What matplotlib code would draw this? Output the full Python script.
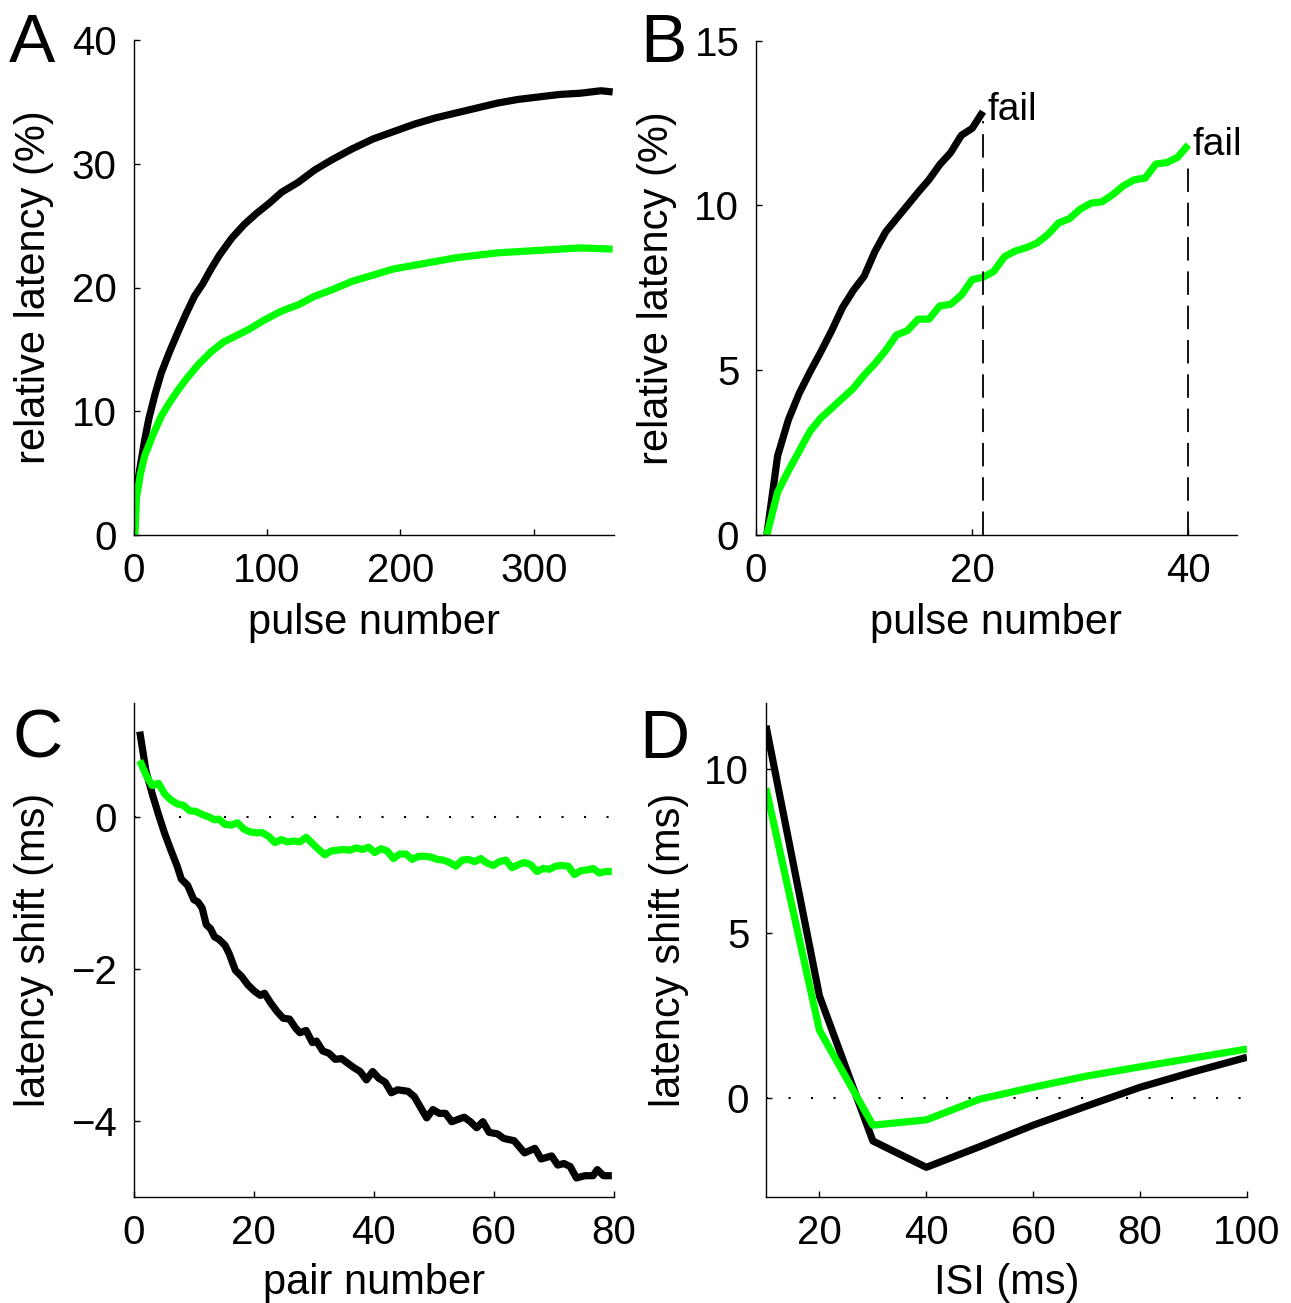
import matplotlib
matplotlib.use("Agg")
import matplotlib.pyplot as plt

plt.rcParams['font.family'] = ['Liberation Sans', 'DejaVu Sans']

W, H = 1291, 1303
BLACK = '#000000'
GREEN = '#00ff00'

# ---- Panel A data ----
a_black_x = [1, 2.2, 5.3, 8.4, 11.5, 16.2, 20.8, 27.0, 33.3, 39.5, 45.7, 51.9, 58.1, 64.3, 73.7, 83.0,
             92.3, 101.6, 111.0, 123.4, 135.8, 148.3, 163.8, 179.4, 194.9, 210.4, 226.0, 241.5,
             257.1, 272.6, 288.2, 303.7, 319.2, 334.8, 350.3, 359.0]
a_black_y = [2.0, 3.7, 5.7, 7.7, 9.4, 11.4, 13.1, 14.8, 16.4, 17.9, 19.3, 20.3, 21.5, 22.6, 24.0, 25.1,
             26.0, 26.8, 27.7, 28.5, 29.5, 30.3, 31.2, 32.0, 32.6, 33.2, 33.7, 34.1,
             34.5, 34.9, 35.2, 35.4, 35.6, 35.7, 35.9, 35.8]
a_green_x = [1, 2.2, 5.3, 8.4, 14.6, 20.8, 27.0, 33.3, 39.5, 48.8, 58.1, 67.5, 76.8, 86.1, 98.5, 111.0,
             123.4, 135.8, 148.3, 163.8, 179.4, 194.9, 210.4, 226.0, 241.5, 257.1, 272.6, 288.2,
             303.7, 319.2, 334.8, 359.0]
a_green_y = [0.0, 3.0, 5.0, 6.4, 8.1, 9.6, 10.7, 11.7, 12.6, 13.8, 14.8, 15.6, 16.1, 16.6, 17.4, 18.1,
             18.6, 19.3, 19.8, 20.5, 21.0, 21.5, 21.8, 22.1, 22.4, 22.6, 22.8, 22.9,
             23.0, 23.1, 23.2, 23.1]

# ---- Panel B data ----
b_black_x = list(range(1, 22))
b_black_y = [0.0, 2.4, 3.5, 4.3, 4.95, 5.56, 6.2, 6.9, 7.42, 7.85, 8.6, 9.2, 9.6, 10.0, 10.4,
             10.78, 11.24, 11.6, 12.13, 12.34, 12.85]
b_green_x = list(range(1, 41))
b_green_y = [0.0, 1.3, 1.95, 2.55, 3.15, 3.55, 3.85, 4.15, 4.45, 4.85, 5.2, 5.6, 6.07, 6.2, 6.55,
             6.55, 6.95, 7.0, 7.28, 7.75, 7.82, 8.0, 8.45, 8.62, 8.72, 8.86, 9.12, 9.47, 9.6, 9.89,
             10.07, 10.11, 10.33, 10.6, 10.78, 10.83, 11.26, 11.3, 11.46, 11.84]

# ---- Panel C data ----
c_black_x = [1.04, 2.08, 3.12, 4.16, 5.19, 6.23, 7.27, 7.96, 9.0, 10.04, 10.73, 11.43, 12.12, 12.81,
             13.5, 14.2, 15.24, 15.93, 16.97, 18.0, 19.04, 20.08, 21.12, 21.81, 22.85, 23.89, 24.93,
             25.97, 27.0, 27.7, 28.74, 29.78, 30.47, 31.51, 32.55, 33.59, 34.63, 35.66, 36.7, 37.74,
             38.78, 39.82, 40.86, 41.9, 42.94, 43.98, 45.71, 46.75, 47.78, 48.82, 49.86, 50.9, 51.94,
             52.98, 54.02, 55.06, 56.09, 57.13, 58.17, 59.21, 60.6, 61.63, 63.37, 65.1, 66.83, 67.87,
             69.6, 70.64, 71.68, 72.71, 73.75, 75.14, 76.52, 77.22, 78.25, 79.64]
c_black_y = [1.12, 0.60, 0.30, 0.03, -0.22, -0.44, -0.65, -0.82, -0.90, -1.09, -1.12, -1.20, -1.42,
             -1.47, -1.58, -1.61, -1.69, -1.80, -2.02, -2.10, -2.21, -2.29, -2.35, -2.32, -2.45, -2.56,
             -2.65, -2.66, -2.78, -2.84, -2.81, -2.97, -2.95, -3.08, -3.11, -3.19, -3.18, -3.24, -3.30,
             -3.35, -3.46, -3.35, -3.44, -3.49, -3.63, -3.59, -3.61, -3.68, -3.82, -3.96, -3.85, -3.90,
             -3.90, -4.01, -3.98, -3.95, -4.01, -4.09, -4.01, -4.15, -4.17, -4.23, -4.26, -4.42, -4.36,
             -4.50, -4.46, -4.58, -4.56, -4.60, -4.75, -4.72, -4.72, -4.64, -4.72, -4.72]
c_green_x = [1.04, 2.08, 3.12, 4.16, 5.19, 6.23, 7.27, 8.31, 9.35, 10.39, 11.43, 12.47, 13.50, 14.20,
             15.24, 16.27, 17.31, 18.35, 19.39, 20.43, 21.47, 22.51, 23.55, 24.58, 25.62, 26.66, 27.70,
             28.74, 29.78, 30.82, 31.86, 32.89, 33.93, 34.97, 36.01, 37.05, 38.09, 39.13, 40.17, 41.20,
             42.24, 43.28, 44.32, 45.36, 46.40, 47.44, 48.48, 49.52, 50.55, 51.59, 52.63, 53.67, 54.71,
             55.75, 56.79, 57.83, 58.86, 59.90, 60.94, 61.98, 63.02, 64.06, 65.10, 66.14, 67.17, 68.21,
             69.25, 70.29, 71.33, 72.37, 73.41, 74.45, 75.48, 76.52, 77.56, 78.60, 79.64]
c_green_y = [0.74, 0.55, 0.41, 0.44, 0.30, 0.22, 0.17, 0.15, 0.08, 0.07,
             0.03, 0.0, -0.04, -0.03, -0.10, -0.11, -0.08, -0.16, -0.20, -0.21,
             -0.21, -0.26, -0.34, -0.30, -0.33, -0.32, -0.33, -0.27, -0.35, -0.43,
             -0.50, -0.45, -0.44, -0.43, -0.44, -0.41, -0.43, -0.40, -0.47, -0.42,
             -0.45, -0.55, -0.49, -0.49, -0.56, -0.52, -0.52, -0.53, -0.56, -0.57,
             -0.60, -0.65, -0.57, -0.56, -0.59, -0.55, -0.61, -0.64, -0.59, -0.57,
             -0.67, -0.63, -0.60, -0.63, -0.72, -0.68, -0.69, -0.65, -0.64, -0.65,
             -0.76, -0.71, -0.70, -0.68, -0.74, -0.72, -0.72]

# ---- Panel D data ----
d_isi = [10, 20, 30, 40, 50, 60, 70, 80, 90, 100]
d_black = [11.3, 3.1, -1.3, -2.1, -1.47, -0.82, -0.24, 0.33, 0.8, 1.24]
d_green = [9.4, 2.06, -0.82, -0.66, -0.03, 0.33, 0.67, 0.95, 1.22, 1.49]

TICK_FS = 29
LABEL_FS = 30
LETTER_FS = 50
LW = 5.2

fig = plt.figure(figsize=(W / 100, H / 100), dpi=100)


def add_ax(left, right, top, bottom):
    return fig.add_axes([left / W, 1 - bottom / H, (right - left) / W, (bottom - top) / H])


def style(ax):
    for s in ('top', 'right'):
        ax.spines[s].set_visible(False)
    for s in ('left', 'bottom'):
        ax.spines[s].set_linewidth(1.0)
    ax.tick_params(direction='in', length=4, width=1.0, labelsize=TICK_FS, pad=12)


axA = add_ax(133.5, 614, 40, 535)
axB = add_ax(756, 1237, 40.7, 535)
axC = add_ax(133.5, 614, 702.7, 1197)
axD = add_ax(766, 1247, 702.7, 1197)

# A
axA.plot(a_black_x, a_black_y, color=BLACK, lw=LW, solid_capstyle='butt')
axA.plot(a_green_x, a_green_y, color=GREEN, lw=LW, solid_capstyle='butt')
axA.set_xlim(0, 360)
axA.set_ylim(0, 40)
axA.set_xticks([0, 100, 200, 300])
axA.set_yticks([0, 10, 20, 30, 40])
axA.set_xlabel('pulse number', fontsize=LABEL_FS)
axA.set_ylabel('relative latency (%)', fontsize=LABEL_FS)

# B
axB.plot(b_black_x, b_black_y, color=BLACK, lw=LW, solid_capstyle='butt')
axB.plot(b_green_x, b_green_y, color=GREEN, lw=LW, solid_capstyle='butt')
axB.vlines([b_black_x[-1]], 0, b_black_y[-1] - 0.3, colors='k', lw=1.3, linestyles=(0, (13, 6)))
axB.vlines([b_green_x[-1]], 0, b_green_y[-1] - 0.6, colors='k', lw=1.3, linestyles=(0, (13, 6)))
axB.text(b_black_x[-1] + 0.4, b_black_y[-1] + 0.05, 'fail', fontsize=28, ha='left', va='center')
axB.text(b_green_x[-1] + 0.4, b_green_y[-1], 'fail', fontsize=28, ha='left', va='center')
axB.set_xlim(0, 44.5)
axB.set_ylim(0, 15)
axB.set_xticks([0, 20, 40])
axB.set_yticks([0, 5, 10, 15])
axB.set_xlabel('pulse number', fontsize=LABEL_FS)
axB.set_ylabel('relative latency (%)', fontsize=LABEL_FS)

# C
axC.axhline(0, color='k', lw=1.5, linestyle=(0, (1, 9.8)))
axC.plot(c_black_x, c_black_y, color=BLACK, lw=LW, solid_capstyle='butt')
axC.plot(c_green_x, c_green_y, color=GREEN, lw=LW, solid_capstyle='butt')
axC.set_xlim(0, 80)
axC.set_ylim(-5, 1.5)
axC.set_xticks([0, 20, 40, 60, 80])
axC.set_yticks([-4, -2, 0])
axC.set_xlabel('pair number', fontsize=LABEL_FS)
axC.set_ylabel('latency shift (ms)', fontsize=LABEL_FS)

# D
axD.axhline(0, color='k', lw=1.5, linestyle=(0, (1, 9.8)))
axD.plot(d_isi, d_black, color=BLACK, lw=LW, solid_capstyle='butt')
axD.plot(d_isi, d_green, color=GREEN, lw=LW, solid_capstyle='butt')
axD.set_xlim(10, 100)
axD.set_ylim(-3, 12)
axD.set_xticks([20, 40, 60, 80, 100])
axD.set_yticks([0, 5, 10])
axD.set_xlabel('ISI (ms)', fontsize=LABEL_FS)
axD.set_ylabel('latency shift (ms)', fontsize=LABEL_FS)

for ax in (axA, axB, axC, axD):
    style(ax)

axA.yaxis.set_label_coords(-0.165, 0.5)
axB.yaxis.set_label_coords(-0.165, 0.5)
axC.yaxis.set_label_coords(-0.165, 0.5)
axD.yaxis.set_label_coords(-0.160, 0.5)
axA.xaxis.set_label_coords(0.5, -0.137)
axB.xaxis.set_label_coords(0.5, -0.137)
axC.xaxis.set_label_coords(0.5, -0.134)
axD.xaxis.set_label_coords(0.5, -0.134)

for letter, x, y in (('A', 9, 61.7), ('B', 640, 61.7), ('C', 13, 758), ('D', 639, 758)):
    fig.text(x / W, 1 - y / H, letter, fontsize=LETTER_FS, ha='left', va='baseline')

fig.savefig('out.png', dpi=100)
